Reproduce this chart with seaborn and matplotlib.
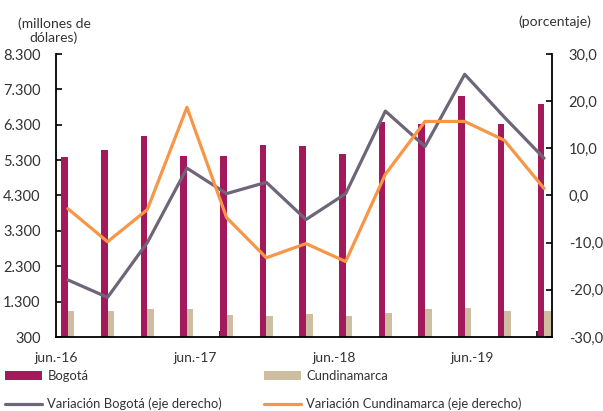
import matplotlib
matplotlib.use("Agg")
import matplotlib.pyplot as plt
from matplotlib.lines import Line2D
from matplotlib.patches import Patch
import numpy as np
import pandas as pd
import seaborn as sns

# Quarterly periods, June 2016 - June 2019
periodos = ["jun.-16", "sep.-16", "dic.-16", "mar.-17", "jun.-17", "sep.-17", "dic.-17",
            "mar.-18", "jun.-18", "sep.-18", "dic.-18", "mar.-19", "jun.-19"]

# Exports (millones de dólares)
bogota = [5380, 5600, 5970, 5430, 5410, 5740, 5690, 5460, 6380, 6335, 7100, 6335, 6880]
cundinamarca = [1040, 1040, 1085, 1085, 925, 895, 945, 895, 990, 1085, 1130, 1040, 1040]

# Annual variation (porcentaje, eje derecho)
var_bogota = [-17.9, -21.6, -10.0, 5.8, 0.4, 2.8, -5.1, 0.4, 17.9, 10.4, 25.7, 16.6, 7.9]
var_cundinamarca = [-2.8, -9.8, -3.0, 18.7, -4.7, -13.2, -10.2, -14.0, 4.5, 15.7, 15.7, 11.7, 1.5]

etiquetas_x = ["jun.-16", "jun.-17", "jun.-18", "jun.-19"]

C_BOG = "#A21A5B"
C_CUN = "#CDBEA2"
C_VBOG = "#6F6579"
C_VCUN = "#F79646"

sns.set_theme(style="white")
plt.rcParams["font.family"] = ["Lato", "DejaVu Sans"]
plt.rcParams["text.color"] = "#333333"

barras = pd.DataFrame({
    "periodo": periodos * 2,
    "serie": ["Bogotá"] * len(periodos) + ["Cundinamarca"] * len(periodos),
    "valor": bogota + cundinamarca,
})
lineas = pd.DataFrame({
    "pos": list(range(len(periodos))) * 2,
    "serie": ["Variación Bogotá (eje derecho)"] * len(periodos)
             + ["Variación Cundinamarca (eje derecho)"] * len(periodos),
    "valor": var_bogota + var_cundinamarca,
})

fig = plt.figure(figsize=(6.03, 4.11), dpi=100)
ax = fig.add_axes([56 / 603, 1 - 337 / 411, (552 - 56) / 603, (337 - 54) / 411])

sns.barplot(data=barras, x="periodo", y="valor", hue="serie", order=periodos,
            palette=[C_BOG, C_CUN], width=0.33, ax=ax, legend=False,
            saturation=1, edgecolor="none")

ax2 = ax.twinx()
sns.lineplot(data=lineas, x="pos", y="valor", hue="serie",
             palette=[C_VBOG, C_VCUN], linewidth=2.3, ax=ax2, legend=False)

ax.set_xlim(-0.15, 12.2)
ax.set_ylim(300, 8300)
ax2.set_ylim(-30, 30)

yt = np.arange(300, 8301, 1000)
ax.set_yticks(yt, [f"{v:,}".replace(",", ".") for v in yt])
yt2 = np.arange(-30, 31, 10)
ax2.set_yticks(yt2, [f"{v:.1f}".replace(".", ",") for v in yt2])

ax.set_xticks([-0.3, 3.2, 6.7, 10.2], etiquetas_x)
ax.set_xticks([-0.15, 3.83, 7.86, 11.82], minor=True)

for a in (ax, ax2):
    a.set_xlabel("")
    a.set_ylabel("")
    for s in a.spines.values():
        s.set_visible(False)

ax.spines["left"].set_visible(True)
ax.spines["bottom"].set_visible(True)
ax2.spines["right"].set_visible(True)
for s in (ax.spines["left"], ax.spines["bottom"], ax2.spines["right"]):
    s.set_color("black")
    s.set_linewidth(1.3)

ax.tick_params(axis="x", which="major", length=0, pad=11, labelsize=10, labelcolor="#333333")
ax.tick_params(axis="x", which="minor", direction="in", length=4, width=1.2, color="black", bottom=True)
ax.tick_params(axis="y", direction="in", length=4, width=1.2, color="black", pad=11,
               labelsize=10.5, labelcolor="#333333", left=True)
ax2.tick_params(axis="y", direction="in", length=4, width=1.2, color="black", pad=12,
                labelsize=10.5, labelcolor="#333333", right=True)

fig.text(54 / 603, 1 - 17 / 411, "(millones de\ndólares)", ha="center", va="top",
         fontsize=10, linespacing=1.2)
fig.text(555 / 603, 1 - 22 / 411, "(porcentaje)", ha="center", va="center", fontsize=10)

h1 = [Patch(facecolor=C_BOG, edgecolor="none"),
      Line2D([], [], color=C_VBOG, linewidth=2.3)]
l1 = ["Bogotá", "Variación Bogotá (eje derecho)"]
h2 = [Patch(facecolor=C_CUN, edgecolor="none"),
      Line2D([], [], color=C_VCUN, linewidth=2.3)]
l2 = ["Cundinamarca", "Variación Cundinamarca (eje derecho)"]

for hs, ls, x0 in ((h1, l1, 5), (h2, l2, 264)):
    fig.legend(hs, ls, loc="upper left", bbox_to_anchor=(x0 / 603, 1 - 370 / 411),
               frameon=False, fontsize=9.4, borderpad=0, borderaxespad=0,
               handlelength=2.85, handleheight=0.65, handletextpad=0.4,
               labelspacing=1.2)

fig.savefig("out.png", dpi=100)
